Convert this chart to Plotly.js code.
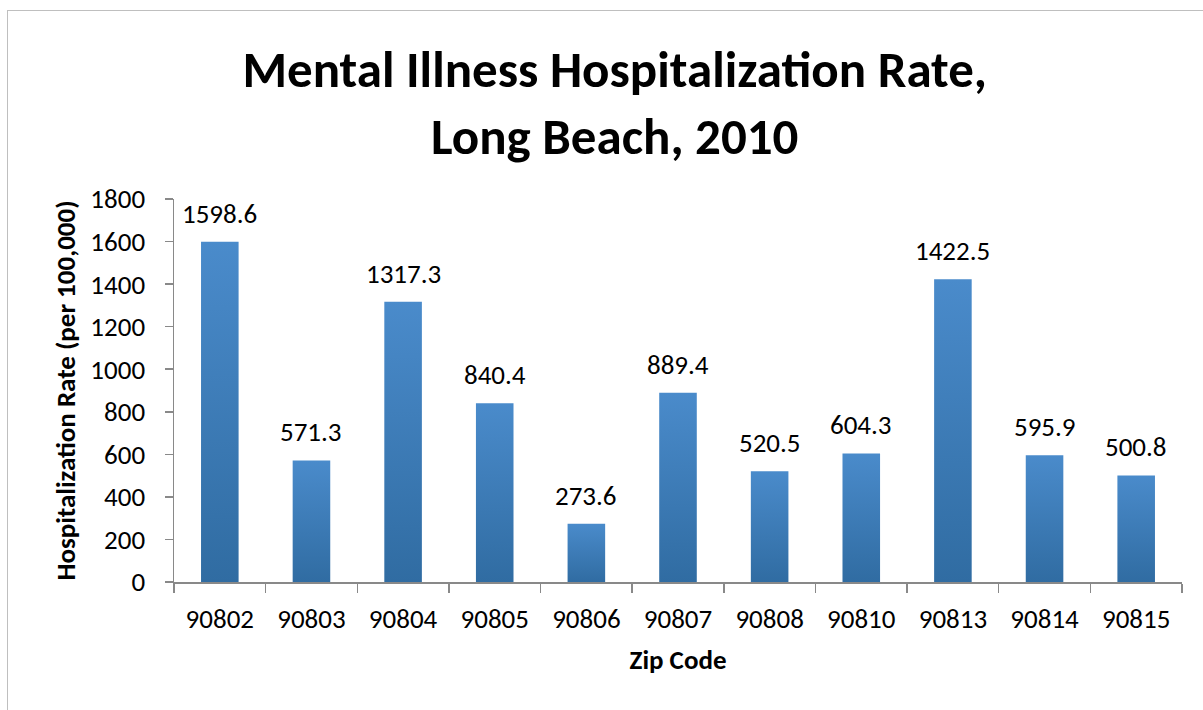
<!DOCTYPE html>
<html>
<head>
<meta charset="utf-8">
<script src="https://cdn.plot.ly/plotly-3.0.1.min.js"></script>
<style>
  html, body { margin: 0; padding: 0; background: #fff; }
  #frame { position: absolute; left: 7px; top: 10px; width: 1300px; height: 800px;
           border-left: 1.5px solid #BFBFBF; border-top: 1.5px solid #BFBFBF; pointer-events: none; }
  #chart { width: 1203px; height: 710px; }
</style>
</head>
<body>
<div id="chart"></div>
<div id="frame"></div>
<script>
const zipCodes = ["90802", "90803", "90804", "90805", "90806", "90807", "90808", "90810", "90813", "90814", "90815"];
const rates = [1598.6, 571.3, 1317.3, 840.4, 273.6, 889.4, 520.5, 604.3, 1422.5, 595.9, 500.8];
const yTicks = [0, 200, 400, 600, 800, 1000, 1200, 1400, 1600, 1800];

const FONT = "Calibri, Carlito, Lato, 'Open Sans', sans-serif";

const trace = {
  type: 'bar',
  x: zipCodes,
  y: rates,
  width: 0.41,
  marker: { color: '#3F7CBC', line: { width: 0 } },
  hoverinfo: 'none'
};

// annotation x uses the category's serial index on the category axis
const annotations = zipCodes.map((z, i) => ({
  x: i, y: rates[i], xref: 'x', yref: 'y',
  text: rates[i].toFixed(1),
  showarrow: false, yanchor: 'bottom', yshift: 10,
  font: { family: FONT, size: 27, color: '#000' }
}));

const layout = {
  width: 1203, height: 710,
  margin: { l: 174, r: 21, t: 199, b: 128 },
  paper_bgcolor: '#fff', plot_bgcolor: '#fff',
  showlegend: false,
  title: {
    text: '<b>Mental Illness Hospitalization Rate,<br>Long Beach, 2010</b>',
    x: 0.511, xanchor: 'center', y: 0.877, yanchor: 'middle',
    font: { family: FONT, size: 51, color: '#000' }
  },
  xaxis: {
    type: 'category',
    range: [-0.5, zipCodes.length - 0.5],
    tickson: 'boundaries',
    ticks: 'outside', ticklen: 9, tickcolor: '#898989', tickwidth: 1.5,
    showline: true, linecolor: '#898989', linewidth: 1.5,
    showgrid: false, zeroline: false,
    tickfont: { family: FONT, size: 27, color: '#000' },
    tickangle: 0,
    ticklabelstandoff: 12,
    title: { text: '<b>Zip Code</b>', font: { family: FONT, size: 27, color: '#000' }, standoff: 16 }
  },
  yaxis: {
    range: [0, 1800],
    tickvals: yTicks,
    ticktext: yTicks.map(String),
    ticks: 'outside', ticklen: 8, tickcolor: '#898989', tickwidth: 1.5,
    showline: true, linecolor: '#898989', linewidth: 1.5,
    showgrid: false, zeroline: false,
    tickfont: { family: FONT, size: 27, color: '#000' },
    ticklabelstandoff: 14,
    title: { text: '<b>Hospitalization Rate (per 100,000)</b>', font: { family: FONT, size: 27, color: '#000' }, standoff: 7 }
  },
  annotations: annotations
};

Plotly.newPlot('chart', [trace], layout, { staticPlot: true }).then(function (gd) {
  const svg = gd.querySelector('svg.main-svg');
  const ns = 'http://www.w3.org/2000/svg';
  let defs = svg.querySelector('defs');
  if (!defs) { defs = document.createElementNS(ns, 'defs'); svg.insertBefore(defs, svg.firstChild); }
  const grad = document.createElementNS(ns, 'linearGradient');
  grad.setAttribute('id', 'barGrad');
  grad.setAttribute('x1', '0'); grad.setAttribute('y1', '0');
  grad.setAttribute('x2', '0'); grad.setAttribute('y2', '1');
  [['0', '#4A8BCB'], ['1', '#306CA2']].forEach(function (s) {
    const st = document.createElementNS(ns, 'stop');
    st.setAttribute('offset', s[0]); st.setAttribute('stop-color', s[1]);
    grad.appendChild(st);
  });
  defs.appendChild(grad);
  gd.querySelectorAll('.point path').forEach(function (p) {
    p.style.fill = 'url(#barGrad)';
  });
});
</script>
</body>
</html>
